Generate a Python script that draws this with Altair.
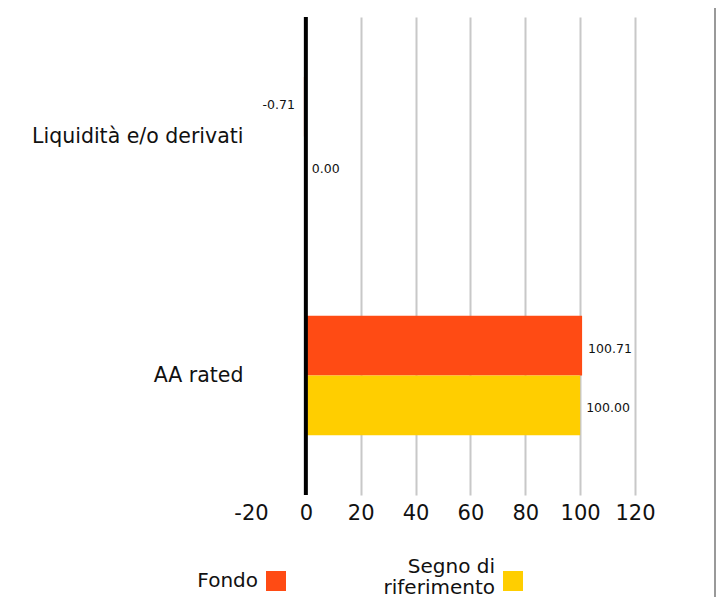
import altair as alt
import pandas as pd

categories = ["Liquidità e/o derivati", "AA rated"]
series = ["Fondo", "Segno di riferimento"]
fondo = [-0.71, 100.71]
benchmark = [0.00, 100.00]
colors = ["#FF4B14", "#FFCE00"]
x_ticks = [-20, 0, 20, 40, 60, 80, 100, 120]
legend_labels = ["Fondo", "Segno di\nriferimento"]

rows = []
for i, c in enumerate(categories):
    for s, vals in zip(series, [fondo, benchmark]):
        rows.append({"category": c, "series": s, "value": vals[i], "label": f"{vals[i]:.2f}"})
df = pd.DataFrame(rows)

FONT = "DejaVu Sans"
TXT = "#111111"

y_enc = alt.Y(
    "category:N",
    sort=categories,
    scale=alt.Scale(domain=categories, paddingInner=0.5, paddingOuter=0.25),
    axis=alt.Axis(title=None, labelFontSize=20.5, labelFont=FONT, labelColor=TXT,
                  labelPadding=8, ticks=False, domain=False, labelLimit=400),
)
yoff = alt.YOffset("series:N", scale=alt.Scale(domain=series))
color_enc = alt.Color("series:N", scale=alt.Scale(domain=series, range=colors), legend=None)
x_enc = alt.X(
    "value:Q",
    scale=alt.Scale(domain=[-20, 120], nice=False, zero=False),
    axis=alt.Axis(
        values=x_ticks, title=None, grid=True, gridColor="#c8c8c8", gridWidth=2,
        gridOpacity={"condition": {"test": "datum.value <= 0", "value": 0}, "value": 1},
        ticks=False, tickSize=0, domain=False, labelFontSize=21, labelFont=FONT,
        labelColor=TXT, labelPadding=7, labelExpr="toString(datum.value)",
        labelOverlap=False, labelFlush=False, labelBound=False,
    ),
)

base = alt.Chart(df)
bars = base.mark_bar().encode(x=x_enc, y=y_enc, yOffset=yoff, color=color_enc)
pos_text = base.transform_filter("datum.value >= 0").mark_text(
    align="left", baseline="middle", dx=6, dy=3, fontSize=12.5, font=FONT, color=TXT
).encode(x="value:Q", y=y_enc, yOffset=yoff, text="label:N")
neg_text = base.transform_filter("datum.value < 0").mark_text(
    align="right", baseline="middle", dx=-9, dy=-2, fontSize=12.5, font=FONT, color=TXT
).encode(x="value:Q", y=y_enc, yOffset=yoff, text="label:N")

zero_rule = alt.Chart(pd.DataFrame({"value": [0]})).mark_rule(
    color="black", strokeWidth=4
).encode(x="value:Q")

border = alt.Chart(pd.DataFrame({"b": [0]})).mark_rule(color="#999999", strokeWidth=2).encode(
    x=alt.value(464), y=alt.value(-9), y2=alt.value(580)
)

leg1 = pd.DataFrame({"series": [series[0]], "label": [legend_labels[0]]})
leg2 = pd.DataFrame({"series": [series[1]], "label": [legend_labels[1]]})
leg_text1 = alt.Chart(leg1).mark_text(align="right", baseline="middle", fontSize=20, font=FONT,
                                      color=TXT, lineBreak="\n", lineHeight=21).encode(
    x=alt.value(7), y=alt.value(564), text="label:N")
leg_sq1 = alt.Chart(leg1).mark_square(size=400, opacity=1).encode(
    x=alt.value(25), y=alt.value(564), color=color_enc)
leg_text2 = alt.Chart(leg2).mark_text(align="right", baseline="middle", fontSize=20, font=FONT,
                                      color=TXT, lineBreak="\n", lineHeight=21).encode(
    x=alt.value(244), y=alt.value(550), text="label:N")
leg_sq2 = alt.Chart(leg2).mark_square(size=400, opacity=1).encode(
    x=alt.value(262), y=alt.value(564), color=color_enc)

chart = alt.layer(
    bars, zero_rule, pos_text, neg_text, border, leg_text1, leg_sq1, leg_text2, leg_sq2
).properties(
    width=384, height=478,
    padding={"left": 243, "top": 9, "right": 81, "bottom": 102},
    autosize=alt.AutoSizeParams(type="none"),
).configure(font=FONT).configure_view(stroke=None)

chart.save("out.html", embed_options={"renderer": "svg", "actions": False})
